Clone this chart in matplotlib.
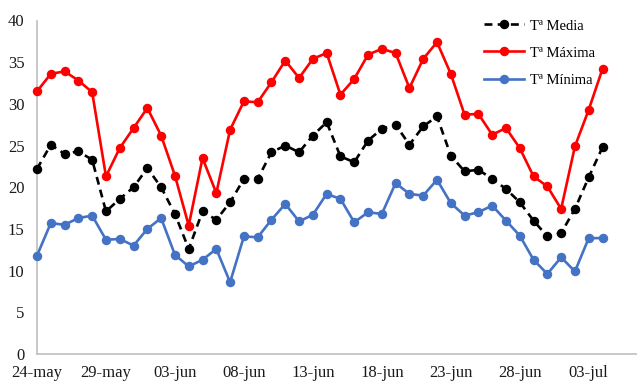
import numpy as np
import pandas as pd
import matplotlib
matplotlib.use("Agg")
import matplotlib.pyplot as plt

# daily temperatures, 24-may to 04-jul
dates = pd.date_range("2021-05-24", "2021-07-04", freq="D")
t_media = [22.2, 25.1, 24.0, 24.3, 23.3, 17.1, 18.6, 20.0, 22.3, 20.0,
           16.8, 12.6, 17.1, 16.1, 18.2, 21.0, 21.0, 24.2, 25.0, 24.2,
           26.2, 27.8, 23.7, 23.0, 25.6, 27.0, 27.5, 25.1, 27.3, 28.5,
           23.8, 21.9, 22.1, 21.0, 19.8, 18.2, 16.0, 14.1, 14.5, 17.4,
           21.2, 24.8]
t_maxima = [31.5, 33.6, 33.9, 32.8, 31.4, 21.3, 24.7, 27.1, 29.5, 26.2,
            21.4, 15.4, 23.5, 19.3, 26.9, 30.3, 30.2, 32.6, 35.2, 33.1,
            35.4, 36.1, 31.1, 33.0, 35.9, 36.6, 36.1, 31.9, 35.4, 37.4,
            33.6, 28.7, 28.8, 26.3, 27.1, 24.7, 21.3, 20.1, 17.4, 24.9,
            29.3, 34.2]
t_minima = [11.8, 15.7, 15.5, 16.3, 16.6, 13.7, 13.8, 13.0, 15.0, 16.3,
            11.9, 10.5, 11.3, 12.6, 8.6, 14.1, 14.0, 16.1, 18.0, 15.9,
            16.7, 19.2, 18.6, 15.8, 17.0, 16.8, 20.5, 19.2, 19.0, 20.9,
            18.1, 16.6, 17.0, 17.8, 16.0, 14.2, 11.3, 9.6, 11.6, 9.9,
            13.9, 13.9]
labels = ["Tª Media", "Tª Máxima", "Tª Mínima"]
tick_labels = ["24-may", "29-may", "03-jun", "08-jun", "13-jun",
               "18-jun", "23-jun", "28-jun", "03-jul"]

plt.rcParams['font.family'] = ['Liberation Serif', 'DejaVu Serif']

fig = plt.figure(figsize=(6.37, 3.81), dpi=100)
ax = fig.add_axes([37/637, 27/381, 1 - 37/637, (354 - 20.5)/381])

x = np.arange(len(dates))
ax.plot(x, t_media, color="black", linestyle=(0, (3, 2)), lw=1.9,
        marker="o", ms=5.8, label=labels[0], clip_on=False, zorder=3)
ax.plot(x, t_maxima, color="#FF0000", lw=1.9,
        marker="o", ms=5.8, label=labels[1], clip_on=False, zorder=3)
ax.plot(x, t_minima, color="#4472C4", lw=1.9,
        marker="o", ms=5.8, label=labels[2], clip_on=False, zorder=3)

ax.set_ylim(0, 40)
ax.set_yticks(np.arange(0, 41, 5))
ax.set_xlim(0, 43.5)
ax.set_xticks(x[::5])
ax.set_xticklabels(tick_labels)
ax.tick_params(axis="both", length=0, labelsize=12, colors="#1a1a1a")
ax.tick_params(axis="y", pad=9)
ax.tick_params(axis="x", pad=8)

for s in ["top", "right"]:
    ax.spines[s].set_visible(False)
for s in ["left", "bottom"]:
    ax.spines[s].set_color("#BFBFBF")
    ax.spines[s].set_linewidth(1.2)

ax.legend(loc="upper left", bbox_to_anchor=(477/637, 1 - 12/381),
          bbox_transform=fig.transFigure, frameon=False, fontsize=10.5,
          handlelength=2.7, labelspacing=0.95, borderpad=0, handletextpad=0.4)

fig.savefig("out.png", dpi=100)
